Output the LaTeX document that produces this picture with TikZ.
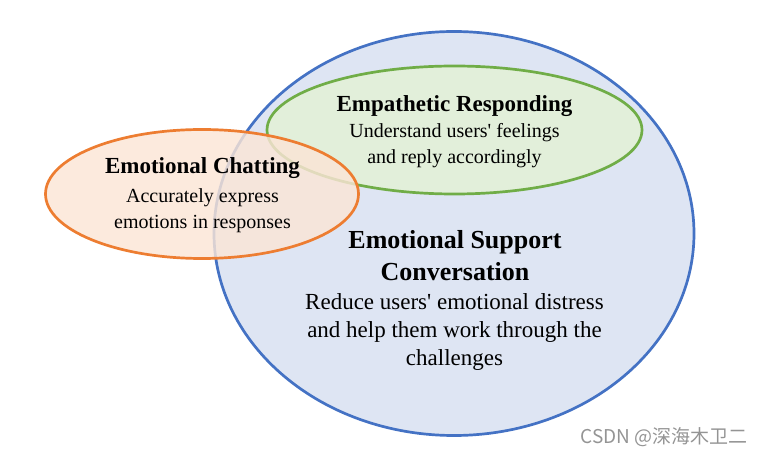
\documentclass[tikz,border=0pt]{standalone}
\usepackage{fontspec}
\setmainfont{Liberation Serif}
\newfontfamily\cjkfont{Noto Sans CJK SC}
\usetikzlibrary{shapes.geometric}

\definecolor{escblue}{RGB}{68,114,196}
\definecolor{escfill}{RGB}{222,229,243}
\definecolor{ergreen}{RGB}{112,173,71}
\definecolor{erfill}{RGB}{226,239,218}
\definecolor{ecorange}{RGB}{237,125,49}
\definecolor{ecfill}{RGB}{251,229,214}

\begin{document}
\begin{tikzpicture}[
    x=1pt, y=-1pt,
    area/.style={
        ellipse,
        line width=2.7pt,
        inner sep=0pt
    },
    title/.style={
        font=\fontsize{23}{28}\selectfont\bfseries,
        anchor=base,
        inner sep=0pt
    },
    body/.style={
        font=\fontsize{20}{26}\selectfont,
        align=center,
        anchor=north,
        inner sep=0pt
    }
]
\useasboundingbox (0,0) rectangle (764,454);

% the three areas
\node[area, draw=escblue, fill=escfill,
    minimum width=480pt, minimum height=404pt] (esc) at (454,233.5) {};
\node[area, draw=ergreen, fill=erfill,
    minimum width=375pt, minimum height=128pt] (er) at (454.5,130) {};
\node[area, draw=ecorange, fill=ecfill, fill opacity=0.82,
    minimum width=313pt, minimum height=129pt] (ec) at (202,194) {};

% texts
\node[title] (ertitle) at (454.5,112) {Empathetic Responding};
\node[body] (erbody) at (454.5,123.5)
    {Understand users\textquotesingle{} feelings\\and reply accordingly};

\node[title] (ectitle) at (202.5,174) {Emotional Chatting};
\node[body] (ecbody) at (202.5,188.5) {Accurately express\\emotions in responses};

\node[title, font=\fontsize{26}{32}\selectfont\bfseries, align=center, anchor=north]
    (esctitle) at (455,230) {Emotional Support\\Conversation};
\node[body, font=\fontsize{23}{28}\selectfont] (escbody) at (454.5,293.5)
    {Reduce users\textquotesingle{} emotional distress\\and help them work through the\\challenges};

\node[font=\fontsize{19}{22}\selectfont\cjkfont, text=black!42, anchor=base]
    (mark) at (664,444) {CSDN @深海木卫二};

\end{tikzpicture}
\end{document}
